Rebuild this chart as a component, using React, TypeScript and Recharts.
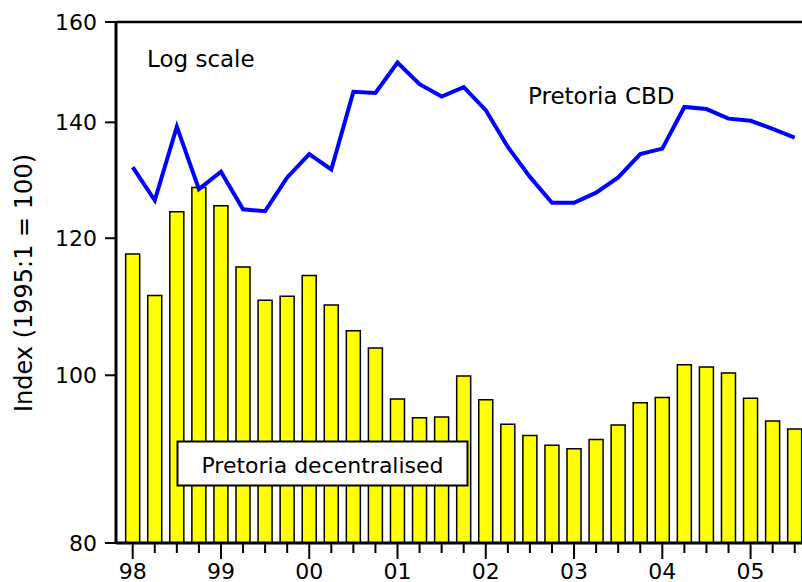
import React from 'react';
import { ComposedChart, Bar, Line, XAxis, YAxis, ReferenceLine } from 'recharts';

const quarters = [
  '98Q1','98Q2','98Q3','98Q4','99Q1','99Q2','99Q3','99Q4',
  '00Q1','00Q2','00Q3','00Q4','01Q1','01Q2','01Q3','01Q4',
  '02Q1','02Q2','02Q3','02Q4','03Q1','03Q2','03Q3','03Q4',
  '04Q1','04Q2','04Q3','04Q4','05Q1','05Q2','05Q3',
];

const decentralised = [
  117.5, 111.2, 124.3, 128.4, 125.3, 115.5, 110.5, 111.1,
  114.2, 109.8, 106.1, 103.7, 96.9, 94.5, 94.6, 99.9,
  96.8, 93.7, 92.3, 91.1, 90.7, 91.8, 93.6, 96.4,
  97.1, 101.4, 101.1, 100.3, 97.0, 94.1, 93.1,
];

const cbd = [
  131.9, 126.2, 139.2, 128.1, 131.1, 124.7, 124.4, 130.1,
  134.2, 131.5, 145.8, 145.6, 151.6, 147.3, 144.9, 146.7,
  142.3, 135.5, 130.2, 125.8, 125.8, 127.5, 130.1, 134.2,
  135.2, 142.9, 142.5, 140.7, 140.3, 138.8, 137.2,
];

const yearLabels = ['98', '99', '00', '01', '02', '03', '04', '05'];
const yTicks = [80, 100, 120, 140, 160];

const data = quarters.map((q, i) => ({ x: i, q, dec: decentralised[i], cbd: cbd[i] }));
const xTicks = quarters.map((_, i) => i);

const FONT = 'DejaVu Sans';

const XTick = (props: any) => {
  const { x, y, payload } = props;
  const i = payload.value as number;
  const major = i % 4 === 0;
  return (
    <g>
      <line x1={x} x2={x} y1={y} y2={y + (major ? 16 : 10)} stroke="#000" strokeWidth={2} />
      {major && (
        <text x={x} y={y + 36} textAnchor="middle" fontSize={22} fontFamily={FONT} fill="#000">
          {yearLabels[i / 4]}
        </text>
      )}
    </g>
  );
};

const YTick = (props: any) => {
  const { x, y, payload } = props;
  return (
    <g>
      <line x1={x - 11} x2={x} y1={y} y2={y} stroke="#000" strokeWidth={2} />
      <text x={x - 19} y={y} dy="0.36em" textAnchor="end" fontSize={22} fontFamily={FONT} fill="#000">
        {payload.value}
      </text>
    </g>
  );
};

export default function App() {
  return (
    <div style={{ position: 'absolute', left: 0, top: 0, width: 802, height: 582, background: '#fff' }}>
      <ComposedChart
        width={802}
        height={582}
        data={data}
        margin={{ top: 22, right: 0, bottom: 0, left: 0 }}
      >
        <XAxis
          dataKey="x"
          type="number"
          domain={[-0.757, 30.33]}
          allowDataOverflow
          ticks={xTicks}
          interval={0}
          height={39}
          tickSize={0}
          tickMargin={0}
          tickLine={false}
          tick={<XTick />}
          axisLine={{ stroke: '#000', strokeWidth: 3 }}
        />
        <YAxis
          type="number"
          scale="log"
          domain={[80, 160]}
          allowDataOverflow
          ticks={yTicks}
          interval={0}
          width={116}
          tickSize={0}
          tickMargin={0}
          tickLine={false}
          axisLine={{ stroke: '#000', strokeWidth: 3 }}
          tick={<YTick />}
        />
        <ReferenceLine y={160} stroke="#000" strokeWidth={2.5} />
        <Bar
          dataKey="dec"
          barSize={14}
          fill="#FFFF00"
          stroke="#000"
          strokeWidth={1.5}
          isAnimationActive={false}
        />
        <Line
          dataKey="cbd"
          type="linear"
          stroke="#0000FF"
          strokeWidth={4}
          dot={false}
          isAnimationActive={false}
        />
      </ComposedChart>
      <svg
        width={802}
        height={582}
        style={{ position: 'absolute', left: 0, top: 0, pointerEvents: 'none' }}
      >
        <text x={147} y={67} fontSize={23} fontFamily={FONT} fill="#000">Log scale</text>
        <text x={528} y={104} fontSize={23} fontFamily={FONT} fill="#000">Pretoria CBD</text>
        <text
          transform="translate(32,283) rotate(-90)"
          textAnchor="middle"
          fontSize={24}
          fontFamily={FONT}
          fill="#000"
        >
          Index (1995:1 = 100)
        </text>
        <rect x={177.5} y={441.5} width={290} height={44} fill="#fff" stroke="#000" strokeWidth={2} />
        <text x={322.5} y={473} textAnchor="middle" fontSize={22} fontFamily={FONT} fill="#000">
          Pretoria decentralised
        </text>
      </svg>
    </div>
  );
}
